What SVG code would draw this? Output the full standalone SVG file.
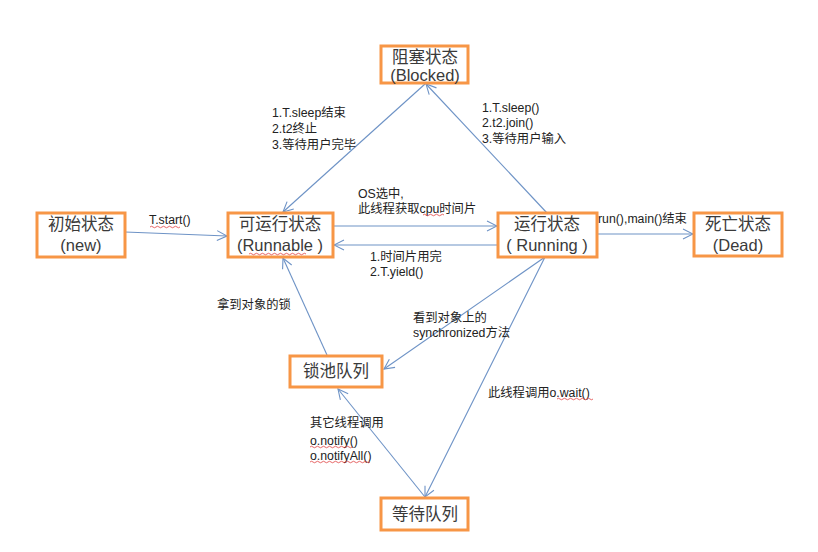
<svg xmlns="http://www.w3.org/2000/svg" width="818" height="552" viewBox="0 0 818 552">
<style>
.box{fill:#fff;stroke:#F79646;stroke-width:3}
.nt{font-family:"Liberation Sans","Noto Sans CJK SC",sans-serif;font-size:16.5px;fill:#3a3a3a;text-anchor:middle}
.lb{font-family:"Liberation Sans","Noto Sans CJK SC",sans-serif;font-size:12.3px;fill:#222}
.ln{stroke:#6E93C6;stroke-width:1.1;fill:none;marker-end:url(#ah)}
.sq{stroke:#E04040;stroke-width:0.8;fill:none}
</style>
<defs>
<marker id="ah" viewBox="0 0 12 12" refX="11" refY="6" markerWidth="12" markerHeight="12" markerUnits="userSpaceOnUse" orient="auto">
<path d="M1,1 L11,6 L1,11" fill="none" stroke="#6E93C6" stroke-width="1.1"/>
</marker>
</defs>
<rect width="818" height="552" fill="#fff"/>
<g id="connectors">
<line class="ln" x1="425" y1="84" x2="283" y2="212"/>
<line class="ln" x1="547" y1="213" x2="426" y2="84"/>
<line class="ln" x1="125" y1="232" x2="227" y2="236"/>
<line class="ln" x1="334" y1="226" x2="497" y2="226"/>
<line class="ln" x1="497" y1="245" x2="334" y2="245"/>
<line class="ln" x1="597" y1="234" x2="693" y2="234"/>
<line class="ln" x1="545" y1="257" x2="384" y2="369"/>
<line class="ln" x1="545" y1="257" x2="425" y2="497"/>
<line class="ln" x1="425" y1="497" x2="338" y2="389"/>
<line class="ln" x1="327" y1="355" x2="283" y2="258"/>
</g>
<g id="blocked"><rect class="box" x="381" y="46" width="87" height="37"/><text class="nt" x="425" y="63">阻塞状态</text><text class="nt" x="425" y="81">(Blocked)</text></g>
<g id="new"><rect class="box" x="37" y="213" width="88" height="44"/><text class="nt" x="81" y="230">初始状态</text><text class="nt" x="81" y="251">(new)</text></g>
<g id="runnable"><rect class="box" x="228" y="213" width="105" height="44"/><text class="nt" x="280" y="230">可运行状态</text><text class="nt" x="280" y="251">(Runnable )</text></g>
<g id="running"><rect class="box" x="498" y="213" width="99" height="44"/><text class="nt" x="547" y="230">运行状态</text><text class="nt" x="547" y="251">( Running )</text></g>
<g id="dead"><rect class="box" x="694" y="213" width="88" height="43"/><text class="nt" x="738" y="230">死亡状态</text><text class="nt" x="738" y="251">(Dead)</text></g>
<g id="lockpool"><rect class="box" x="290" y="356" width="92" height="31"/><text class="nt" x="336" y="377">锁池队列</text></g>
<g id="waitqueue"><rect class="box" x="381" y="498" width="87" height="32"/><text class="nt" x="425" y="520">等待队列</text></g>
<g id="labels">
<text class="lb" x="149" y="224" font-size="11">T.start()</text>
<text class="lb" x="272" y="117">1.T.sleep结束</text>
<text class="lb" x="272" y="133">2.t2终止</text>
<text class="lb" x="272" y="149">3.等待用户完毕</text>
<text class="lb" x="482" y="112">1.T.sleep()</text>
<text class="lb" x="482" y="127">2.t2.join()</text>
<text class="lb" x="482" y="143">3.等待用户输入</text>
<text class="lb" x="358" y="198">OS选中,</text>
<text class="lb" x="358" y="213">此线程获取cpu时间片</text>
<text class="lb" x="598" y="223">run(),main()结束</text>
<text class="lb" x="370" y="261">1.时间片用完</text>
<text class="lb" x="370" y="276">2.T.yield()</text>
<text class="lb" x="217" y="309">拿到对象的锁</text>
<text class="lb" x="413" y="322">看到对象上的</text>
<text class="lb" x="413" y="337">synchronized方法</text>
<text class="lb" x="488" y="397">此线程调用o.wait()</text>
<text class="lb" x="310" y="427">其它线程调用</text>
<text class="lb" x="310" y="445">o.notify()</text>
<text class="lb" x="310" y="460">o.notifyAll()</text>
</g>
<g id="squiggles">
<path class="sq" d="M150,227 q1.5,-1.5 3,0 t3,0 t3,0 t3,0 t3,0 t3,0 t3,0 t3,0 t3,0 t3,0"/>
<path class="sq" d="M249,254 q1.5,-1.5 3,0 t3,0 t3,0 t3,0 t3,0 t3,0 t3,0 t3,0 t3,0 t3,0 t3,0 t3,0 t3,0 t3,0 t3,0 t3,0 t3,0 t3,0 t3,0"/>
<path class="sq" d="M423,215 q1.5,-1.5 3,0 t3,0 t3,0 t3,0 t3,0 t3,0 t3,0"/>
<path class="sq" d="M557,399 q1.5,-1.5 3,0 t3,0 t3,0 t3,0 t3,0 t3,0 t3,0 t3,0 t3,0 t3,0 t3,0 t3,0"/>
<path class="sq" d="M310,447 q1.5,-1.5 3,0 t3,0 t3,0 t3,0 t3,0 t3,0 t3,0 t3,0 t3,0 t3,0 t3,0 t3,0 t3,0 t3,0"/>
<path class="sq" d="M310,462 q1.5,-1.5 3,0 t3,0 t3,0 t3,0 t3,0 t3,0 t3,0 t3,0 t3,0 t3,0 t3,0 t3,0 t3,0 t3,0 t3,0 t3,0 t3,0 t3,0 t3,0 t3,0"/>
</g>
</svg>
